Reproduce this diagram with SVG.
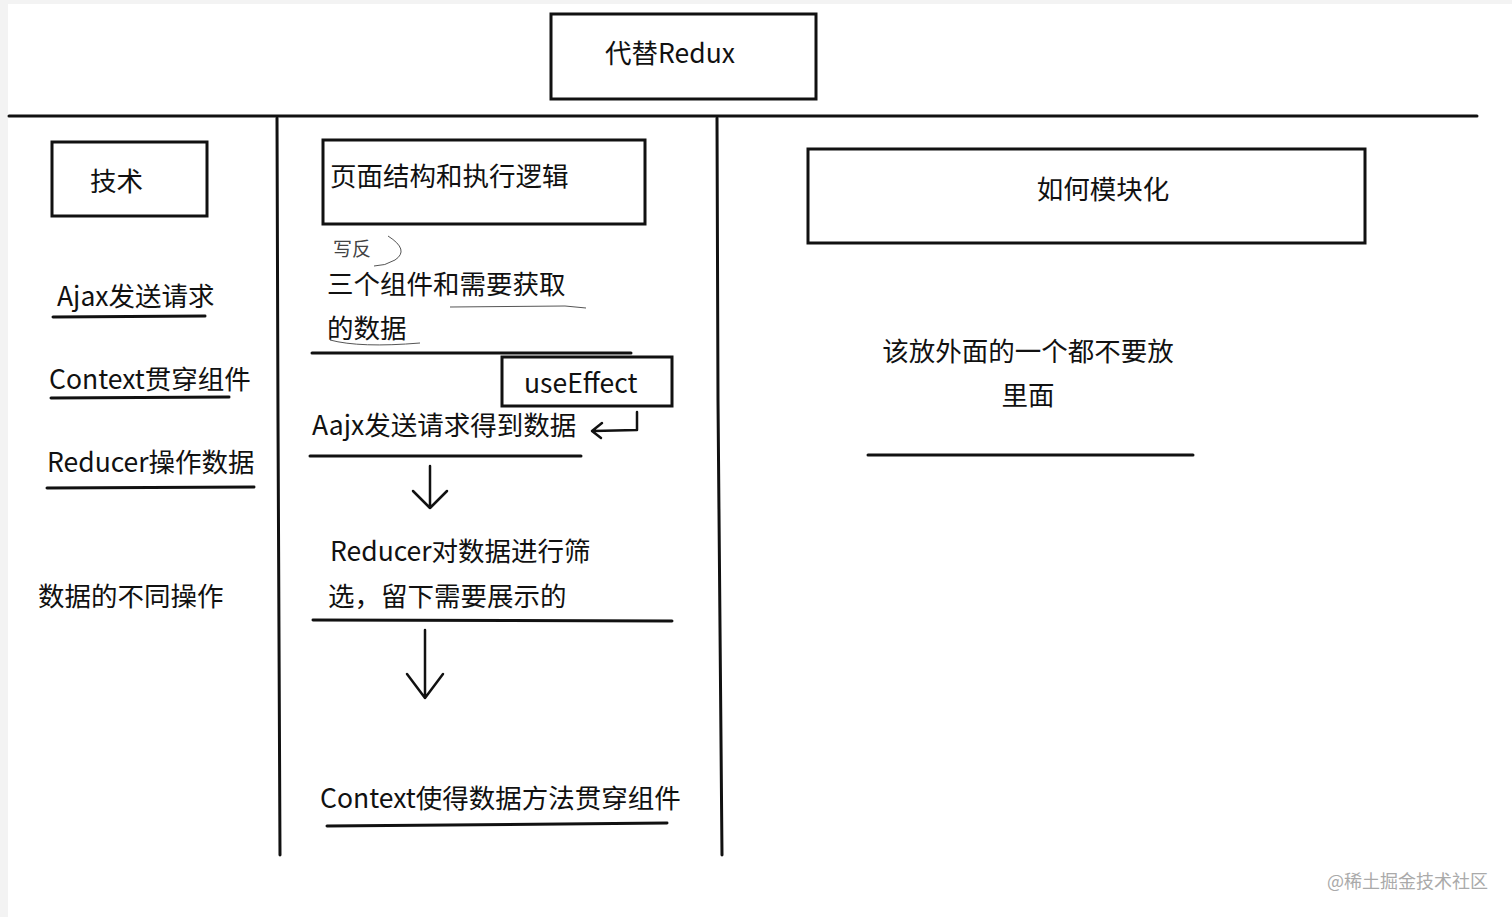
<svg xmlns="http://www.w3.org/2000/svg" width="1512" height="917" viewBox="0 0 1512 917">
<style>
text{font-family:"Microsoft YaHei","Noto Sans CJK SC","Noto Sans",sans-serif;font-size:26.5px;fill:#111}
.box{fill:#fff;stroke:#111;stroke-width:3}
.ln{stroke:#111;stroke-width:3;fill:none;stroke-linecap:round}
.thin{stroke:#555;stroke-width:1;fill:none}
.arr{stroke:#111;stroke-width:2.5;fill:none;stroke-linecap:round;stroke-linejoin:round}
</style>
<rect x="0" y="0" width="1512" height="917" fill="#f3f3f3"/>
<rect x="8" y="4" width="1504" height="913" fill="#fff"/>
<g id="connectors">
<path class="ln" d="M9 116 L1477 116"/>
<path class="ln" d="M277 118 L278 420 L280 855"/>
<path class="ln" d="M717 118 L718 400 L722 855"/>
<path class="ln" d="M53 317 L205 316"/>
<path class="ln" d="M51 398 L229 397"/>
<path class="ln" d="M47 488 L254 487"/>
<path class="thin" d="M450 307 L565 306 L586 308"/>
<path class="thin" d="M330 340 Q360 348 420 343"/>
<path class="ln" d="M312 353 L631 353"/>
<path class="ln" d="M310 456 L581 456"/>
<path class="ln" d="M313 620 L672 621"/>
<path class="ln" d="M327 826 L667 823"/>
<path class="ln" d="M868 455 L1193 455"/>
<path class="arr" d="M637 412 L637 430 L593 431 M602 423 L592 431 L601 438"/>
<path class="arr" d="M430 466 L430 508 M413 491 L430 508 L447 491"/>
<path class="arr" d="M425 630 L425 698 M407 674 L425 698 L443 674"/>
<path class="thin" d="M388 236 Q410 250 395 260 Q385 266 374 266"/>
</g>
<g id="n-redux"><rect class="box" x="551" y="14" width="265" height="85"/><text x="605" y="63">代替Redux</text></g>
<g id="n-tech"><rect class="box" x="52" y="142" width="155" height="74"/><text x="90" y="191">技术</text></g>
<g id="n-page"><rect class="box" x="323" y="140" width="322" height="84"/><text x="330" y="186">页面结构和执行逻辑</text></g>
<g id="n-module"><rect class="box" x="808" y="149" width="557" height="94"/><text x="1103" y="199" text-anchor="middle">如何模块化</text></g>
<g id="n-ajax"><text x="57" y="306">Ajax发送请求</text></g>
<g id="n-context"><text x="49" y="389">Context贯穿组件</text></g>
<g id="n-reducer"><text x="47" y="472">Reducer操作数据</text></g>
<g id="n-ops"><text x="38" y="606">数据的不同操作</text></g>
<g id="n-note"><text x="333" y="256" style="font-size:19px;fill:#444">写反</text></g>
<g id="n-three"><text x="327" y="294">三个组件和需要获取</text><text x="327" y="338">的数据</text></g>
<g id="n-effect"><rect class="box" x="502" y="357" width="170" height="49"/><text x="524" y="393">useEffect</text></g>
<g id="n-aajx"><text x="312" y="435">Aajx发送请求得到数据</text></g>
<g id="n-filter"><text x="330" y="561">Reducer对数据进行筛</text><text x="328" y="606">选，留下需要展示的</text></g>
<g id="n-ctx2"><text x="320" y="808">Context使得数据方法贯穿组件</text></g>
<g id="n-outside"><text x="1028" y="361" text-anchor="middle">该放外面的一个都不要放</text><text x="1028" y="405" text-anchor="middle">里面</text></g>
<g id="watermark"><text x="1327" y="888" style="font-size:18px;fill:#aaa">@稀土掘金技术社区</text></g>
</svg>
